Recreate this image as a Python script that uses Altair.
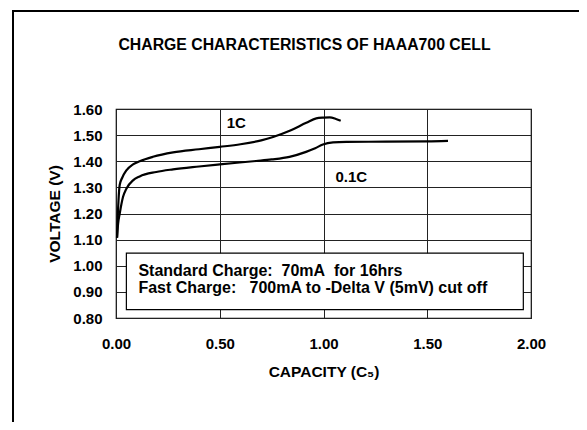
import altair as alt
import pandas as pd

# ---- data ----
cap_1c = [0.005, 0.008, 0.012, 0.018, 0.03, 0.05, 0.082, 0.114, 0.178, 0.275, 0.4, 0.5,
          0.6, 0.7, 0.757, 0.837, 0.917, 0.965, 1.0, 1.03, 1.06, 1.083]
v_1c = [1.107, 1.18, 1.25, 1.31, 1.337, 1.365, 1.388, 1.40, 1.417, 1.434, 1.446, 1.455,
        1.465, 1.48, 1.493, 1.517, 1.547, 1.564, 1.567, 1.568, 1.562, 1.555]

cap_01c = [0.005, 0.01, 0.018, 0.034, 0.05, 0.082, 0.114, 0.194, 0.275, 0.4, 0.5, 0.675,
           0.75, 0.836, 0.916, 0.96, 0.997, 1.046, 1.11, 1.3, 1.5, 1.6]
v_01c = [1.107, 1.16, 1.20, 1.264, 1.295, 1.327, 1.342, 1.359, 1.369, 1.38, 1.388, 1.401,
         1.407, 1.417, 1.436, 1.45, 1.464, 1.472, 1.474, 1.475, 1.476, 1.478]

series_labels = ["1C", "0.1C"]
label_x = [0.58, 1.134]
label_y = [1.546, 1.34]

x_ticks = [0.0, 0.5, 1.0, 1.5, 2.0]
y_ticks = [0.8, 0.9, 1.0, 1.1, 1.2, 1.3, 1.4, 1.5, 1.6]

title_text = "CHARGE CHARACTERISTICS OF HAAA700 CELL"
note_lines = ["Standard Charge:\u00a0 70mA\u00a0 for 16hrs",
              "Fast Charge:\u00a0\u00a0 700mA to -Delta V (5mV) cut off"]
note_x = [0.108, 0.108]
note_y = [0.960, 0.895]
box_x = [0.05, 1.963]
box_y = [0.832, 1.048]

FONT = "Liberation Sans"

curves = pd.concat([
    pd.DataFrame({"cap": cap_1c, "v": v_1c, "s": "1C"}),
    pd.DataFrame({"cap": cap_01c, "v": v_01c, "s": "0.1C"}),
])

xs = alt.Scale(domain=[0, 2], nice=False, zero=False)
ys = alt.Scale(domain=[0.8, 1.6], nice=False, zero=False)

x_axis = alt.Axis(values=x_ticks, format=".2f", title="CAPACITY (C\u2085)",
                  grid=True, ticks=False, tickSize=0, labelPadding=18, labelFlush=False,
                  labelOverlap=False, titlePadding=13)
y_axis = alt.Axis(values=y_ticks, format=".2f", title="VOLTAGE (V)",
                  grid=True, ticks=False, tickSize=0, labelPadding=14, labelFlush=False,
                  labelOverlap=False, titlePadding=10)

lines = alt.Chart(curves).mark_line(color="black", strokeWidth=2.2, interpolate="monotone").encode(
    x=alt.X("cap:Q", scale=xs, axis=x_axis), y=alt.Y("v:Q", scale=ys, axis=y_axis), detail="s:N")

box = alt.Chart(pd.DataFrame({"x": [box_x[0]], "x2": [box_x[1]], "y": [box_y[0]], "y2": [box_y[1]]})).mark_rect(
    fill="white", stroke="black", strokeWidth=1.2).encode(
    x=alt.X("x:Q", scale=xs, axis=x_axis), x2="x2:Q", y=alt.Y("y:Q", scale=ys, axis=y_axis), y2="y2:Q")

notes = alt.Chart(pd.DataFrame({"t": note_lines, "x": note_x, "y": note_y})).mark_text(
    align="left", baseline="alphabetic", font=FONT, fontWeight="bold", fontSize=16, color="black").encode(
    x=alt.X("x:Q", scale=xs, axis=x_axis), y=alt.Y("y:Q", scale=ys, axis=y_axis), text="t:N")

labels = alt.Chart(pd.DataFrame({"t": series_labels, "x": label_x, "y": label_y})).mark_text(
    align="center", baseline="middle", font=FONT, fontWeight="bold", fontSize=15, color="black").encode(
    x=alt.X("x:Q", scale=xs, axis=x_axis), y=alt.Y("y:Q", scale=ys, axis=y_axis), text="t:N")

title = alt.Chart(pd.DataFrame({"t": [title_text]})).mark_text(
    align="center", baseline="alphabetic", font=FONT, fontWeight="bold", fontSize=15.8, color="black").encode(
    x=alt.value(188.5), y=alt.value(-59), text="t:N")

one = pd.DataFrame({"k": [0]})
frame_left = alt.Chart(one).mark_rule(color="black", strokeWidth=2).encode(
    x=alt.value(-103), y=alt.value(-98), y2=alt.value(330))
frame_top = alt.Chart(one).mark_rule(color="black", strokeWidth=2).encode(
    x=alt.value(-104), x2=alt.value(480), y=alt.value(-98))

chart = alt.layer(box, lines, notes, labels, title, frame_left, frame_top).properties(
    width=415, height=209,
    background="white",
    autosize=alt.AutoSizeParams(type="none"),
    padding={"left": 108, "top": 101, "right": 48, "bottom": 104},
).configure_view(stroke="black", strokeWidth=1.2).configure_axis(
    domain=False, gridColor="#222", gridOpacity=1, gridWidth=1,
    labelFont=FONT, labelFontWeight="bold", labelFontSize=15, labelColor="black",
    titleFont=FONT, titleFontWeight="bold", titleFontSize=15.5, titleColor="black",
)

chart.save("out.html", embed_options={"renderer": "svg", "actions": False})
